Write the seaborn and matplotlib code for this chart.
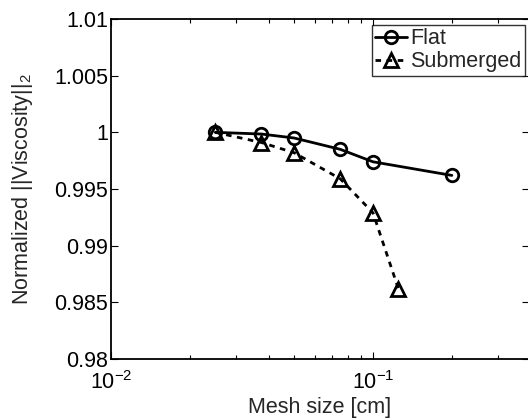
import matplotlib
matplotlib.use("Agg")
import matplotlib.pyplot as plt
import seaborn as sns
import pandas as pd
import numpy as np
from matplotlib.ticker import FixedLocator, LogLocator, NullFormatter

mesh_flat = [0.025, 0.0375, 0.05, 0.075, 0.1, 0.2]
visc_flat = [1.0000, 0.99985, 0.9995, 0.9985, 0.9974, 0.9962]
mesh_sub = [0.025, 0.0375, 0.05, 0.075, 0.1, 0.125]
visc_sub = [1.0000, 0.9991, 0.9982, 0.9959, 0.9929, 0.9862]
y_ticks = [0.98, 0.985, 0.99, 0.995, 1.0, 1.005, 1.01]
y_labels = ["0.98", "0.985", "0.99", "0.995", "1", "1.005", "1.01"]

sns.set_style("ticks")
plt.rcParams['font.family'] = ['Liberation Sans', 'DejaVu Sans']
plt.rcParams['mathtext.fontset'] = 'custom'
plt.rcParams['mathtext.rm'] = 'Liberation Sans'
plt.rcParams['mathtext.it'] = 'Liberation Sans:italic'

FS = 15.5

fig = plt.figure(figsize=(5.28, 4.2), dpi=100)
ax = fig.add_axes([111/528, 61/420, (529-111)/528, 340/420])

df_flat = pd.DataFrame({"mesh": mesh_flat, "visc": visc_flat})
df_sub = pd.DataFrame({"mesh": mesh_sub, "visc": visc_sub})

sns.lineplot(data=df_flat, x="mesh", y="visc", ax=ax, color="black", marker="o",
             linestyle="-", linewidth=2, markersize=9, label="Flat")
sns.lineplot(data=df_sub, x="mesh", y="visc", ax=ax, color="black", marker="^",
             linestyle="--", linewidth=2, markersize=10, label="Submerged")

for ln in ax.get_lines():
    ln.set_markerfacecolor("none")
    ln.set_markeredgecolor("black")
    ln.set_markeredgewidth(2)
ax.get_lines()[1].set_dashes((2, 2))

ax.set_xscale("log")
ax.set_xlim(0.01, 0.394)
ax.set_ylim(0.98, 1.01)
ax.yaxis.set_major_locator(FixedLocator(y_ticks))
ax.set_yticklabels(y_labels)
ax.xaxis.set_major_locator(LogLocator(base=10))
ax.xaxis.set_minor_locator(LogLocator(base=10, subs=np.arange(2, 10)))
ax.xaxis.set_minor_formatter(NullFormatter())

for s in ax.spines.values():
    s.set_visible(True)
    s.set_linewidth(1.3)
    s.set_color("black")

ax.tick_params(which="both", direction="in", top=True, right=True, colors="black",
               labelsize=FS, width=0.8)
ax.tick_params(which="major", length=5)
ax.tick_params(which="minor", length=3)
ax.tick_params(axis="x", pad=9)
ax.tick_params(axis="y", pad=2)

ax.set_xlabel("Mesh size [cm]", fontsize=FS, labelpad=2)
ax.set_ylabel("Normalized ||Viscosity||$_2$", fontsize=FS, labelpad=14)

leg = ax.legend(loc="upper right", bbox_to_anchor=(1.0 - 4/418, 1.0 - 6/340),
                frameon=True, fontsize=FS, handlelength=1.5, handletextpad=0.15,
                borderpad=0.15, labelspacing=0.1, borderaxespad=0, fancybox=False)
leg.get_frame().set_edgecolor("black")
leg.get_frame().set_linewidth(1.0)

fig.savefig("out.png", dpi=100)
